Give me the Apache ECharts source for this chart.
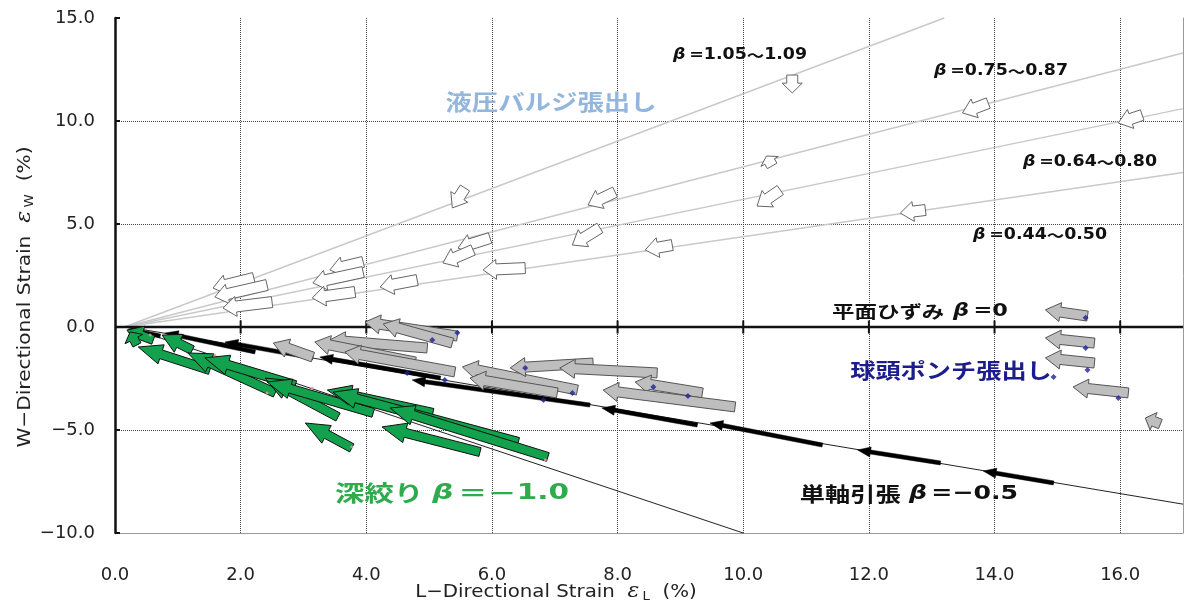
<!DOCTYPE html>
<html>
<head>
<meta charset="utf-8">
<script src="https://cdn.jsdelivr.net/npm/echarts@6/dist/echarts.min.js"></script>
<style>
  html, body { margin: 0; padding: 0; background: #fff; }
  #chart { width: 1186px; height: 604px; }
</style>
</head>
<body>
<div id="chart"></div>
<script>
// Axis ranges and ticks (strain in %)
const xRange = [0, 17];
const yRange = [-10, 15];
const xStep = 2;
const yStep = 5;
const zeroLineTicks = [2, 4, 6, 8, 10, 12, 14, 16];

// Strain-ratio guide lines, each [εL start, εW start, εL end, εW end]
const bulgeGuides = [
  [0.15, 0, 13.2, 15.0],
  [0.15, 0, 17.0, 13.3],
  [0.15, 0, 17.0, 10.6],
  [0.15, 0, 17.0, 7.5]
];
const drawGuide = [[0.2, 0, 10.0, -10.0]];
const tensionGuide = [[0.2, 0, 17.0, -8.6]];
const planeStrainLine = [[0, 0, 17, 0]];

// Strain paths drawn as arrows, each [εL tail, εW tail, εL head, εW head]
// Hydraulic bulge (液圧バルジ張出し)
const bulgeArrows = [
  [5.57, 6.75, 5.37, 5.78],
  [7.96, 6.55, 7.53, 5.92],
  [7.72, 4.81, 7.28, 3.98],
  [8.87, 3.98, 8.44, 3.74],
  [10.59, 6.65, 10.22, 5.87],
  [10.46, 7.82, 10.37, 8.30],
  [10.78, 12.23, 10.78, 11.36],
  [12.90, 5.68, 12.50, 5.53],
  [13.90, 10.87, 13.49, 10.39],
  [16.35, 10.29, 15.97, 9.90],
  [2.21, 2.38, 1.56, 1.89],
  [2.42, 2.04, 1.59, 1.46],
  [2.50, 1.21, 1.72, 0.92],
  [3.95, 3.16, 3.42, 2.77],
  [3.95, 2.67, 3.15, 2.14],
  [3.82, 1.70, 3.14, 1.41],
  [4.81, 2.28, 4.22, 1.94],
  [5.97, 4.32, 5.46, 3.83],
  [5.70, 3.74, 5.22, 3.11],
  [6.53, 2.86, 5.86, 2.77]
];
// Hemispherical punch stretching (球頭ポンチ張出し)
const punchArrows = [
  [5.45, -0.44, 3.98, 0.24],
  [5.37, -0.78, 4.27, 0.15],
  [4.97, -1.02, 3.42, -0.63],
  [3.15, -1.46, 2.52, -0.78],
  [4.78, -1.70, 3.18, -0.73],
  [5.41, -2.18, 3.66, -1.21],
  [7.36, -3.06, 5.53, -1.94],
  [7.04, -3.20, 5.65, -2.48],
  [7.61, -1.75, 6.29, -1.99],
  [8.63, -2.23, 7.08, -1.99],
  [9.35, -3.20, 8.28, -2.67],
  [9.87, -3.88, 7.77, -3.06],
  [15.48, 0.53, 14.81, 0.83],
  [15.59, -0.78, 14.81, -0.53],
  [15.59, -1.75, 14.81, -1.50],
  [16.13, -3.20, 15.25, -2.91],
  [16.64, -4.71, 16.40, -4.42]
];
const punchPoints = [
  [5.45, -0.28], [5.05, -0.63], [5.25, -2.57], [4.65, -2.23], [6.82, -3.54],
  [7.28, -3.20], [6.53, -1.99], [8.57, -2.91], [9.12, -3.35],
  [15.45, 0.45], [15.45, -1.02], [15.48, -2.09], [15.97, -3.45], [14.94, -2.43]
];
// Deep drawing (深絞り)
const drawArrows = [
  [0.61, -0.63, 0.19, -0.15],
  [0.35, -0.87, 0.24, -0.24],
  [1.23, -1.12, 0.75, -0.39],
  [1.51, -2.09, 0.37, -0.97],
  [2.55, -3.20, 1.16, -1.26],
  [2.87, -2.82, 1.43, -1.50],
  [3.55, -4.37, 2.39, -2.48],
  [4.11, -4.17, 2.42, -2.67],
  [5.06, -4.17, 3.38, -3.06],
  [6.42, -5.58, 3.47, -3.16],
  [6.89, -6.31, 4.38, -3.93],
  [3.77, -5.87, 3.03, -4.66],
  [5.81, -6.07, 4.25, -4.85]
];
const drawPoints = [
  [0.56, -0.39], [1.59, -1.36], [3.14, -2.96], [2.42, -3.20], [3.77, -5.83], [6.85, -6.45]
];
// Uniaxial tension (単軸引張)
const tensionArrows = [
  [14.94, -7.57, 13.82, -6.99],
  [13.14, -6.60, 11.82, -5.97],
  [11.26, -5.73, 9.47, -4.66],
  [9.27, -4.76, 7.75, -3.93],
  [7.56, -3.79, 4.73, -2.57],
  [2.23, -1.21, 0.80, -0.29],
  [3.15, -1.50, 1.75, -0.73],
  [5.18, -2.48, 3.26, -1.46],
  [0.72, -0.44, 0.21, -0.10]
];

const NUM_FONT = 'DejaVu Sans';
const JP_FONT = '"Noto Sans CJK JP", "DejaVu Sans", sans-serif';

function fmt(v) {
  return (v < 0 ? '\u2212' : '') + Math.abs(v).toFixed(1);
}

// Block arrow polygon from tail to head, sized in pixels
function arrowRenderer(st) {
  return function (params, api) {
    const t = api.coord([api.value(0), api.value(1)]);
    const h = api.coord([api.value(2), api.value(3)]);
    const dx = h[0] - t[0], dy = h[1] - t[1];
    const len = Math.hypot(dx, dy) || 1;
    const ux = dx / len, uy = dy / len;
    const nx = -uy, ny = ux;
    const L = Math.min(st.head, len * 0.55);
    const bx = h[0] - ux * L, by = h[1] - uy * L;
    const s = st.shaft, w = st.wing;
    const pts = [
      [t[0] + nx * s, t[1] + ny * s],
      [bx + nx * s, by + ny * s],
      [bx + nx * w, by + ny * w],
      [h[0], h[1]],
      [bx - nx * w, by - ny * w],
      [bx - nx * s, by - ny * s],
      [t[0] - nx * s, t[1] - ny * s]
    ];
    return {
      type: 'polygon',
      shape: { points: pts },
      style: { fill: st.fill, stroke: st.stroke, lineWidth: st.lineWidth }
    };
  };
}

function segmentRenderer(color, width) {
  return function (params, api) {
    const a = api.coord([api.value(0), api.value(1)]);
    const b = api.coord([api.value(2), api.value(3)]);
    return {
      type: 'line',
      shape: { x1: a[0], y1: a[1], x2: b[0], y2: b[1] },
      style: { stroke: color, lineWidth: width }
    };
  };
}

function segmentSeries(data, color, width, z) {
  return {
    type: 'custom', coordinateSystem: 'cartesian2d', silent: true, z: z,
    encode: { x: [0, 2], y: [1, 3] },
    data: data, renderItem: segmentRenderer(color, width)
  };
}

function arrowSeries(data, st, z) {
  return {
    type: 'custom', coordinateSystem: 'cartesian2d', silent: true, z: z,
    encode: { x: [0, 2], y: [1, 3] },
    data: data, renderItem: arrowRenderer(st)
  };
}

const chart = echarts.init(document.getElementById('chart'));

function richSet(size, color) {
  return {
    j: { fontFamily: JP_FONT, fontWeight: 'bold', fontSize: size, fill: color },
    b: { fontFamily: 'DejaVu Sans', fontStyle: 'italic', fontWeight: 'bold', fontSize: size, fill: color },
    n: { fontFamily: 'DejaVu Sans', fontWeight: 'bold', fontSize: size, fill: color }
  };
}

function betaLabel(lo, hi, x, y) {
  return {
    type: 'text', x: x, y: y, scaleX: 1.16, z: 50,
    style: {
      text: '{b|β} {n|=' + lo + '}{j|\uff5e}{n|' + hi + '}', rich: richSet(15, '#111'),
      textAlign: 'center', textVerticalAlign: 'middle'
    }
  };
}

const option = {
  animation: false,
  backgroundColor: '#fff',
  grid: { left: 115, right: 3, top: 18, bottom: 71, containLabel: false, outerBoundsMode: 'none' },
  xAxis: [{
    type: 'value', min: xRange[0], max: xRange[1], interval: xStep,
    axisLine: { onZero: false, lineStyle: { color: '#9a9a9a', width: 1 } },
    axisTick: { show: false },
    axisLabel: { formatter: fmt, fontFamily: NUM_FONT, fontSize: 18, color: '#222', margin: 33, showMaxLabel: false },
    splitLine: { show: true, showMaxLine: false, lineStyle: { type: 'dotted', color: '#444', width: 1 } }
  }],
  yAxis: [{
    type: 'value', min: yRange[0], max: yRange[1], interval: yStep,
    axisLine: { onZero: false, lineStyle: { color: '#111', width: 2.5 } },
    axisTick: { inside: true, length: 5, lineStyle: { color: '#111', width: 2 } },
    axisLabel: { formatter: fmt, fontFamily: NUM_FONT, fontSize: 18, color: '#222', margin: 20 },
    splitLine: { show: true, showMaxLine: false, lineStyle: { type: 'dotted', color: '#444', width: 1 } }
  }, {
    type: 'value', position: 'right', min: yRange[0], max: yRange[1], interval: yStep,
    axisLine: { show: true, onZero: false, lineStyle: { color: '#9a9a9a', width: 1 } },
    axisTick: { show: false }, axisLabel: { show: false }, splitLine: { show: false }
  }],
  series: [
    segmentSeries(bulgeGuides, '#c9c9c9', 1.5, 2),
    segmentSeries(drawGuide, '#222', 1, 3),
    segmentSeries(tensionGuide, '#222', 1, 3),
    segmentSeries(planeStrainLine, '#111', 2.5, 4),
    {
      // crossing ticks on the εW = 0 line
      type: 'custom', coordinateSystem: 'cartesian2d', silent: true, z: 4,
      data: zeroLineTicks.map(function (v) { return [v, 0]; }),
      renderItem: function (params, api) {
        const p = api.coord([api.value(0), api.value(1)]);
        return {
          type: 'line',
          shape: { x1: p[0], y1: p[1] - 6.5, x2: p[0], y2: p[1] + 6.5 },
          style: { stroke: '#111', lineWidth: 2 }
        };
      }
    },
    arrowSeries(tensionArrows, { shaft: 2, wing: 5, head: 13, fill: '#000', stroke: '#000', lineWidth: 0.5 }, 5),
    arrowSeries(punchArrows, { shaft: 5, wing: 9.5, head: 15, fill: '#bebebe', stroke: '#555', lineWidth: 1 }, 6),
    {
      type: 'scatter', data: punchPoints, symbol: 'diamond', symbolSize: 6, z: 7, silent: true,
      itemStyle: { color: '#1f1f96' }
    },
    arrowSeries(drawArrows, { shaft: 4.5, wing: 10, head: 24, fill: '#12a24e', stroke: '#111', lineWidth: 1 }, 8),
    {
      type: 'scatter', data: drawPoints, symbol: 'circle', symbolSize: 3, z: 9, silent: true,
      itemStyle: { color: '#f29a9a' }
    },
    arrowSeries(bulgeArrows, { shaft: 5.5, wing: 10, head: 13, fill: '#ffffff', stroke: '#666', lineWidth: 1 }, 10)
  ],
  graphic: [
    betaLabel('1.05', '1.09', 740, 55),
    betaLabel('0.75', '0.87', 1001, 71),
    betaLabel('0.64', '0.80', 1090, 162),
    betaLabel('0.44', '0.50', 1040, 235),
    {
      type: 'text', x: 551, y: 102, scaleX: 1.2, z: 50,
      style: {
        text: '液圧バルジ張出し', fontFamily: JP_FONT, fontSize: 22, fontWeight: 'bold',
        fill: '#93b6dd', textAlign: 'center', textVerticalAlign: 'middle'
      }
    },
    {
      type: 'text', x: 920, y: 312, scaleX: 1.32, z: 50,
      style: {
        text: '{j|平面ひずみ}  {b|β} {n|=0}', rich: richSet(17, '#111'),
        textAlign: 'center', textVerticalAlign: 'middle'
      }
    },
    {
      type: 'text', x: 951, y: 370, scaleX: 1.2, z: 50,
      style: {
        text: '球頭ポンチ張出し', fontFamily: JP_FONT, fontSize: 21, fontWeight: 'bold',
        fill: '#1c1c8c', textAlign: 'center', textVerticalAlign: 'middle'
      }
    },
    {
      type: 'text', x: 909, y: 494, scaleX: 1.26, z: 50,
      style: {
        text: '{j|単軸引張}  {b|β} {n|=\u22120.5}', rich: richSet(20, '#111'),
        textAlign: 'center', textVerticalAlign: 'middle'
      }
    },
    {
      type: 'text', x: 452, y: 493, scaleX: 1.34, z: 50,
      style: {
        text: '{j|深絞り}  {b|β} {j|＝－}{n|1.0}', rich: richSet(22, '#2eab4c'),
        textAlign: 'center', textVerticalAlign: 'middle'
      }
    },
    {
      // εL axis title
      type: 'text', x: 556, y: 592, scaleX: 1.1, z: 50,
      style: {
        text: '{t|L\u2212Directional Strain  }{e|\u03b5}{s|L}{t|  (%)}',
        rich: {
          t: { fontFamily: NUM_FONT, fontSize: 18, fill: '#222', lineHeight: 20 },
          e: { fontFamily: 'DejaVu Serif', fontStyle: 'italic', fontSize: 20, fill: '#222', lineHeight: 20 },
          s: { fontFamily: NUM_FONT, fontSize: 12, fill: '#222', padding: [10, 0, 0, 3], lineHeight: 20 }
        },
        textAlign: 'center', textVerticalAlign: 'middle'
      }
    },
    {
      // εW axis title
      type: 'text', x: 25, y: 297, rotation: Math.PI / 2, scaleX: 1.12, z: 50,
      style: {
        text: '{t|W\u2212Directional Strain  }{e|\u03b5}{s|W}{t|  (%)}',
        rich: {
          t: { fontFamily: NUM_FONT, fontSize: 18, fill: '#222', lineHeight: 20 },
          e: { fontFamily: 'DejaVu Serif', fontStyle: 'italic', fontSize: 20, fill: '#222', lineHeight: 20 },
          s: { fontFamily: NUM_FONT, fontSize: 12, fill: '#222', padding: [10, 0, 0, 3], lineHeight: 20 }
        },
        textAlign: 'center', textVerticalAlign: 'middle'
      }
    }
  ]
};

chart.setOption(option);
</script>
</body>
</html>
